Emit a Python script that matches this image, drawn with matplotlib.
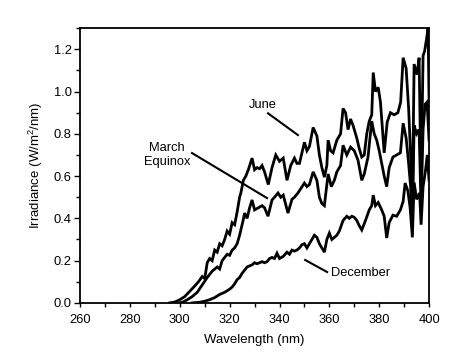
import matplotlib
matplotlib.use("Agg")
import matplotlib.pyplot as plt
from matplotlib.ticker import MultipleLocator

plt.rcParams['font.family'] = ['Liberation Sans', 'DejaVu Sans']
plt.rcParams['mathtext.default'] = 'regular'

# spectra (wavelength nm, irradiance W/m2/nm)
june_wl = [296, 298, 300, 302, 304, 306, 307.5, 309, 310, 311, 312, 313, 314, 315, 316, 317, 318,
           319, 320, 321, 322, 323, 324, 324.5, 325.5, 326.5, 327.5, 329, 330, 331, 332, 333, 334,
           335.5, 337, 338.5, 340, 341.5, 343, 344.5, 346, 347, 348, 350, 351, 352, 353.5, 355, 356,
           357, 358, 359, 359.5, 360.5, 361.5, 363, 364.5, 365.5, 366.5, 367.5, 368.5, 369.5, 371,
           372, 373, 374, 375, 376, 377, 377.6, 378.5, 379.6, 380.5, 382, 383.2, 384.5, 386, 387.5,
           388.6, 389.6, 390.8, 391.8, 392.6, 393.3, 394.0, 395.2, 396.0, 396.8, 397.6, 398.2, 399.0,
           399.6, 400]
june_irr = [0.0, 0.004, 0.015, 0.03, 0.055, 0.08, 0.10, 0.125, 0.115, 0.19, 0.21, 0.20, 0.25, 0.24,
            0.28, 0.27, 0.30, 0.34, 0.325, 0.38, 0.37, 0.43, 0.50, 0.52, 0.58, 0.60, 0.63, 0.685, 0.63,
            0.64, 0.635, 0.65, 0.62, 0.56, 0.64, 0.70, 0.67, 0.685, 0.58, 0.65, 0.685, 0.66, 0.66, 0.76,
            0.72, 0.74, 0.83, 0.79, 0.70, 0.64, 0.595, 0.65, 0.77, 0.72, 0.71, 0.77, 0.80, 0.92, 0.90,
            0.82, 0.87, 0.84, 0.78, 0.73, 0.69, 0.70, 0.80, 0.86, 0.89, 1.09, 1.00, 1.02, 0.95, 0.71,
            0.855, 0.90, 0.89, 0.90, 0.95, 1.16, 1.11, 0.92, 0.70, 0.45, 1.13, 1.08, 1.16, 0.55, 1.17,
            1.19, 1.25, 1.30, 0.96]

march_wl = [300, 301.5, 303, 305, 307, 309, 311, 313, 315, 316, 317, 319, 320, 321, 322, 323, 324,
            325.4, 326, 327, 328, 329, 330, 331.5, 333, 334, 335.4, 337, 338, 339.4, 340.5, 341.5,
            343.4, 345, 346, 347.4, 348.5, 350, 351, 352, 353.5, 355, 356, 357, 358, 359.5, 360.8,
            362, 363, 364.5, 365.5, 367, 368.5, 370, 371.5, 373, 374, 375.5, 377, 378, 379, 380, 381,
            382, 383, 384, 385.5, 387, 388.5, 389.6, 390.8, 391.8, 392.6, 393.3, 394, 395, 396, 396.8,
            397.6, 398.4, 399.2, 400]
march_irr = [0.0, 0.005, 0.015, 0.03, 0.05, 0.085, 0.12, 0.15, 0.17, 0.16, 0.20, 0.23, 0.225, 0.25,
             0.26, 0.28, 0.32, 0.39, 0.425, 0.40, 0.45, 0.487, 0.44, 0.45, 0.46, 0.45, 0.41, 0.487,
             0.50, 0.52, 0.50, 0.51, 0.425, 0.49, 0.50, 0.52, 0.54, 0.567, 0.55, 0.56, 0.62, 0.58,
             0.50, 0.47, 0.46, 0.61, 0.55, 0.58, 0.62, 0.65, 0.746, 0.70, 0.737, 0.72, 0.675, 0.58,
             0.61, 0.69, 0.86, 0.80, 0.77, 0.72, 0.66, 0.60, 0.55, 0.64, 0.69, 0.70, 0.71, 0.85, 0.78,
             0.66, 0.55, 0.37, 0.84, 0.80, 0.82, 0.45, 0.82, 0.94, 0.95, 0.77]

dec_wl = [305, 308, 310, 312, 314, 316, 318, 320, 321, 322, 323, 324, 325, 326, 327, 328, 329, 330,
          331, 332, 333, 334, 335, 336, 337, 338, 339, 340, 341.5, 343, 344, 345, 346, 347, 348, 349,
          350, 351, 352, 353, 354, 355, 356, 357, 358, 359, 360, 361, 362, 363, 364, 365.5, 367, 368,
          369, 370, 371, 372, 373, 374.5, 376, 377, 377.6, 378.5, 379.6, 381, 382, 383, 384, 385.5,
          387, 388.5, 389.6, 390.4, 391.5, 392.4, 393.3, 394, 395, 396.2, 396.8, 397.6, 398.5, 399.3,
          400]
dec_irr = [0.0, 0.003, 0.008, 0.015, 0.025, 0.04, 0.05, 0.065, 0.075, 0.09, 0.11, 0.12, 0.14, 0.155,
           0.17, 0.175, 0.18, 0.19, 0.185, 0.19, 0.195, 0.19, 0.195, 0.21, 0.215, 0.21, 0.235, 0.21,
           0.22, 0.24, 0.23, 0.25, 0.245, 0.25, 0.26, 0.275, 0.28, 0.26, 0.28, 0.30, 0.32, 0.31, 0.28,
           0.26, 0.24, 0.30, 0.33, 0.30, 0.31, 0.32, 0.34, 0.39, 0.41, 0.40, 0.41, 0.405, 0.39, 0.365,
           0.345, 0.39, 0.44, 0.46, 0.51, 0.46, 0.475, 0.44, 0.41, 0.307, 0.38, 0.415, 0.41, 0.44,
           0.48, 0.567, 0.53, 0.45, 0.31, 0.57, 0.49, 0.52, 0.37, 0.55, 0.62, 0.70, 0.58]

fig = plt.figure(figsize=(4.55, 3.61), dpi=100)
ax = fig.add_axes([0.176, 0.161, 0.767, 0.761])

for wl, irr in [(june_wl, june_irr), (march_wl, march_irr), (dec_wl, dec_irr)]:
    ax.plot(wl, irr, color='black', lw=2.0, solid_joinstyle='miter')

# labels with pointer lines
ax.plot([335.4, 347.4], [0.897, 0.794], color='black', lw=1.5)
ax.text(333.4, 0.935, 'June', ha='center', va='center', fontsize=9.3)
ax.plot([304.9, 335.0], [0.709, 0.496], color='black', lw=1.5)
ax.text(294.9, 0.70, 'March\nEquinox', ha='center', va='center', fontsize=9.3, linespacing=1.2)
ax.plot([350.3, 359.1], [0.203, 0.146], color='black', lw=1.5)
ax.text(360.7, 0.142, 'December', ha='left', va='center', fontsize=9.3)

ax.set_xlim(260, 400)
ax.set_ylim(0, 1.3)
ax.xaxis.set_major_locator(MultipleLocator(20))
ax.xaxis.set_minor_locator(MultipleLocator(10))
ax.yaxis.set_major_locator(MultipleLocator(0.2))
ax.yaxis.set_minor_locator(MultipleLocator(0.1))
ax.yaxis.set_major_formatter(plt.FormatStrFormatter('%.1f'))
ax.tick_params(which='both', direction='out', width=1.0, labelsize=9.3, pad=2)
ax.tick_params(which='major', length=4)
ax.tick_params(which='minor', length=3)
ax.tick_params(axis='x', which='both', length=3, pad=5)
for s in ax.spines.values():
    s.set_linewidth(1.3)

ax.set_xlabel('Wavelength (nm)', fontsize=9.5, labelpad=6)
ax.set_ylabel('Irradiance (W/m$^2$/nm)', fontsize=9.5, labelpad=6)

fig.savefig('out.png', dpi=100)
